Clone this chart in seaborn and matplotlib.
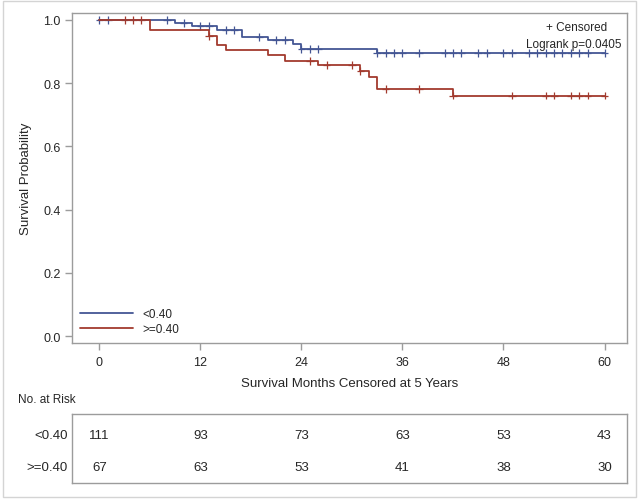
import matplotlib
matplotlib.use("Agg")
import matplotlib.pyplot as plt
import matplotlib.patches as patches
import numpy as np
import pandas as pd
import seaborn as sns

# Kaplan-Meier step data
groups = ["<0.40", ">=0.40"]
low_times = [0, 9, 11, 14, 17, 20, 23, 24, 33, 60]
low_surv = [1.0, 0.990, 0.980, 0.969, 0.947, 0.936, 0.923, 0.909, 0.895, 0.895]
high_times = [0, 6, 13, 14, 15, 20, 22, 26, 31, 32, 33, 42, 60]
high_surv = [1.0, 0.969, 0.949, 0.920, 0.904, 0.888, 0.870, 0.857, 0.838, 0.819, 0.781, 0.761, 0.761]

low_censor = [0, 1, 8, 10, 12, 13, 15, 16, 19, 21, 22, 24, 25, 26, 33, 34, 35, 36, 38,
              41, 42, 43, 45, 46, 48, 49, 51, 52, 53, 54, 55, 56, 57, 58, 60]
high_censor = [3, 4, 5, 13, 25, 27, 30, 31, 34, 38, 42, 49, 53, 54, 56, 57, 58, 60]

risk_times = [0, 12, 24, 36, 48, 60]
low_risk = [111, 93, 73, 63, 53, 43]
high_risk = [67, 63, 53, 41, 38, 30]

colors = {"<0.40": "#445694", ">=0.40": "#A23A2E"}
frame = "#9c9c9c"


def step_frame(times, surv, name):
    return pd.DataFrame({"time": times, "surv": surv, "group": name})


def censor_frame(ctimes, times, surv, name):
    idx = np.searchsorted(times, ctimes, side="right") - 1
    return pd.DataFrame({"time": ctimes, "surv": np.array(surv)[idx], "group": name})


curves = pd.concat([step_frame(low_times, low_surv, groups[0]),
                    step_frame(high_times, high_surv, groups[1])])
censors = pd.concat([censor_frame(low_censor, low_times, low_surv, groups[0]),
                     censor_frame(high_censor, high_times, high_surv, groups[1])])

sns.set_style("white")
plt.rcParams["font.family"] = ["Liberation Sans", "DejaVu Sans"]

fig = plt.figure(figsize=(6.4, 5.02), dpi=100)
fig.patches.append(patches.Rectangle((0.005, 0.008), 0.988, 0.988, transform=fig.transFigure,
                                     fill=False, edgecolor="#d4d4d4", linewidth=1.0))

ax = fig.add_axes([72 / 640, 158 / 502, 555 / 640, 330 / 502])
for name in groups:
    sub = curves[curves["group"] == name]
    sns.lineplot(data=sub, x="time", y="surv", drawstyle="steps-post", color=colors[name],
                 linewidth=1.3, label=name, ax=ax, estimator=None)
sns.scatterplot(data=censors, x="time", y="surv", hue="group", palette=colors, marker="+",
                s=30, linewidth=0.9, legend=False, ax=ax)

ax.set_xlim(-3.25, 62.67)
ax.set_ylim(-0.022, 1.022)
ax.set_xticks(risk_times)
ax.set_yticks([0.0, 0.2, 0.4, 0.6, 0.8, 1.0])
ax.set_yticklabels(["0.0", "0.2", "0.4", "0.6", "0.8", "1.0"])
ax.tick_params(axis="both", bottom=True, left=True, length=5, width=1, color=frame,
               labelsize=9, pad=3, direction="out")
ax.tick_params(axis="x", pad=4)
for s in ax.spines.values():
    s.set_color(frame)
    s.set_linewidth(1.0)
ax.set_xlabel("Survival Months Censored at 5 Years", fontsize=9.5, labelpad=7)
ax.set_ylabel("Survival Probability", fontsize=9.5, labelpad=8)

leg = ax.legend(loc="lower left", frameon=False, fontsize=8.5, handlelength=4.5,
                borderaxespad=0.3, labelspacing=0.25)

ax.text(0.965, 0.975, "+ Censored", transform=ax.transAxes, ha="right", va="top", fontsize=8.5)
ax.text(0.99, 0.925, "Logrank p=0.0405", transform=ax.transAxes, ha="right", va="top", fontsize=8.5)

# at-risk table
tab = fig.add_axes([72 / 640, 18 / 502, 555 / 640, 69 / 502])
tab.set_xlim(ax.get_xlim())
tab.set_ylim(0, 1)
tab.set_xticks([])
tab.set_yticks([])
for s in tab.spines.values():
    s.set_color(frame)
    s.set_linewidth(1.0)
rows = [(groups[0], low_risk, 0.70), (groups[1], high_risk, 0.23)]
for name, counts, yy in rows:
    for t, n in zip(risk_times, counts):
        tab.text(t, yy, str(n), ha="center", va="center", fontsize=9.5)
    tab.text(-0.008, yy, name, transform=tab.get_yaxis_transform(), ha="right", va="center",
             fontsize=9.5)

fig.text(18 / 640, 1 - 400 / 502, "No. at Risk", ha="left", va="center", fontsize=8.5)

fig.savefig("out.png", dpi=100)
